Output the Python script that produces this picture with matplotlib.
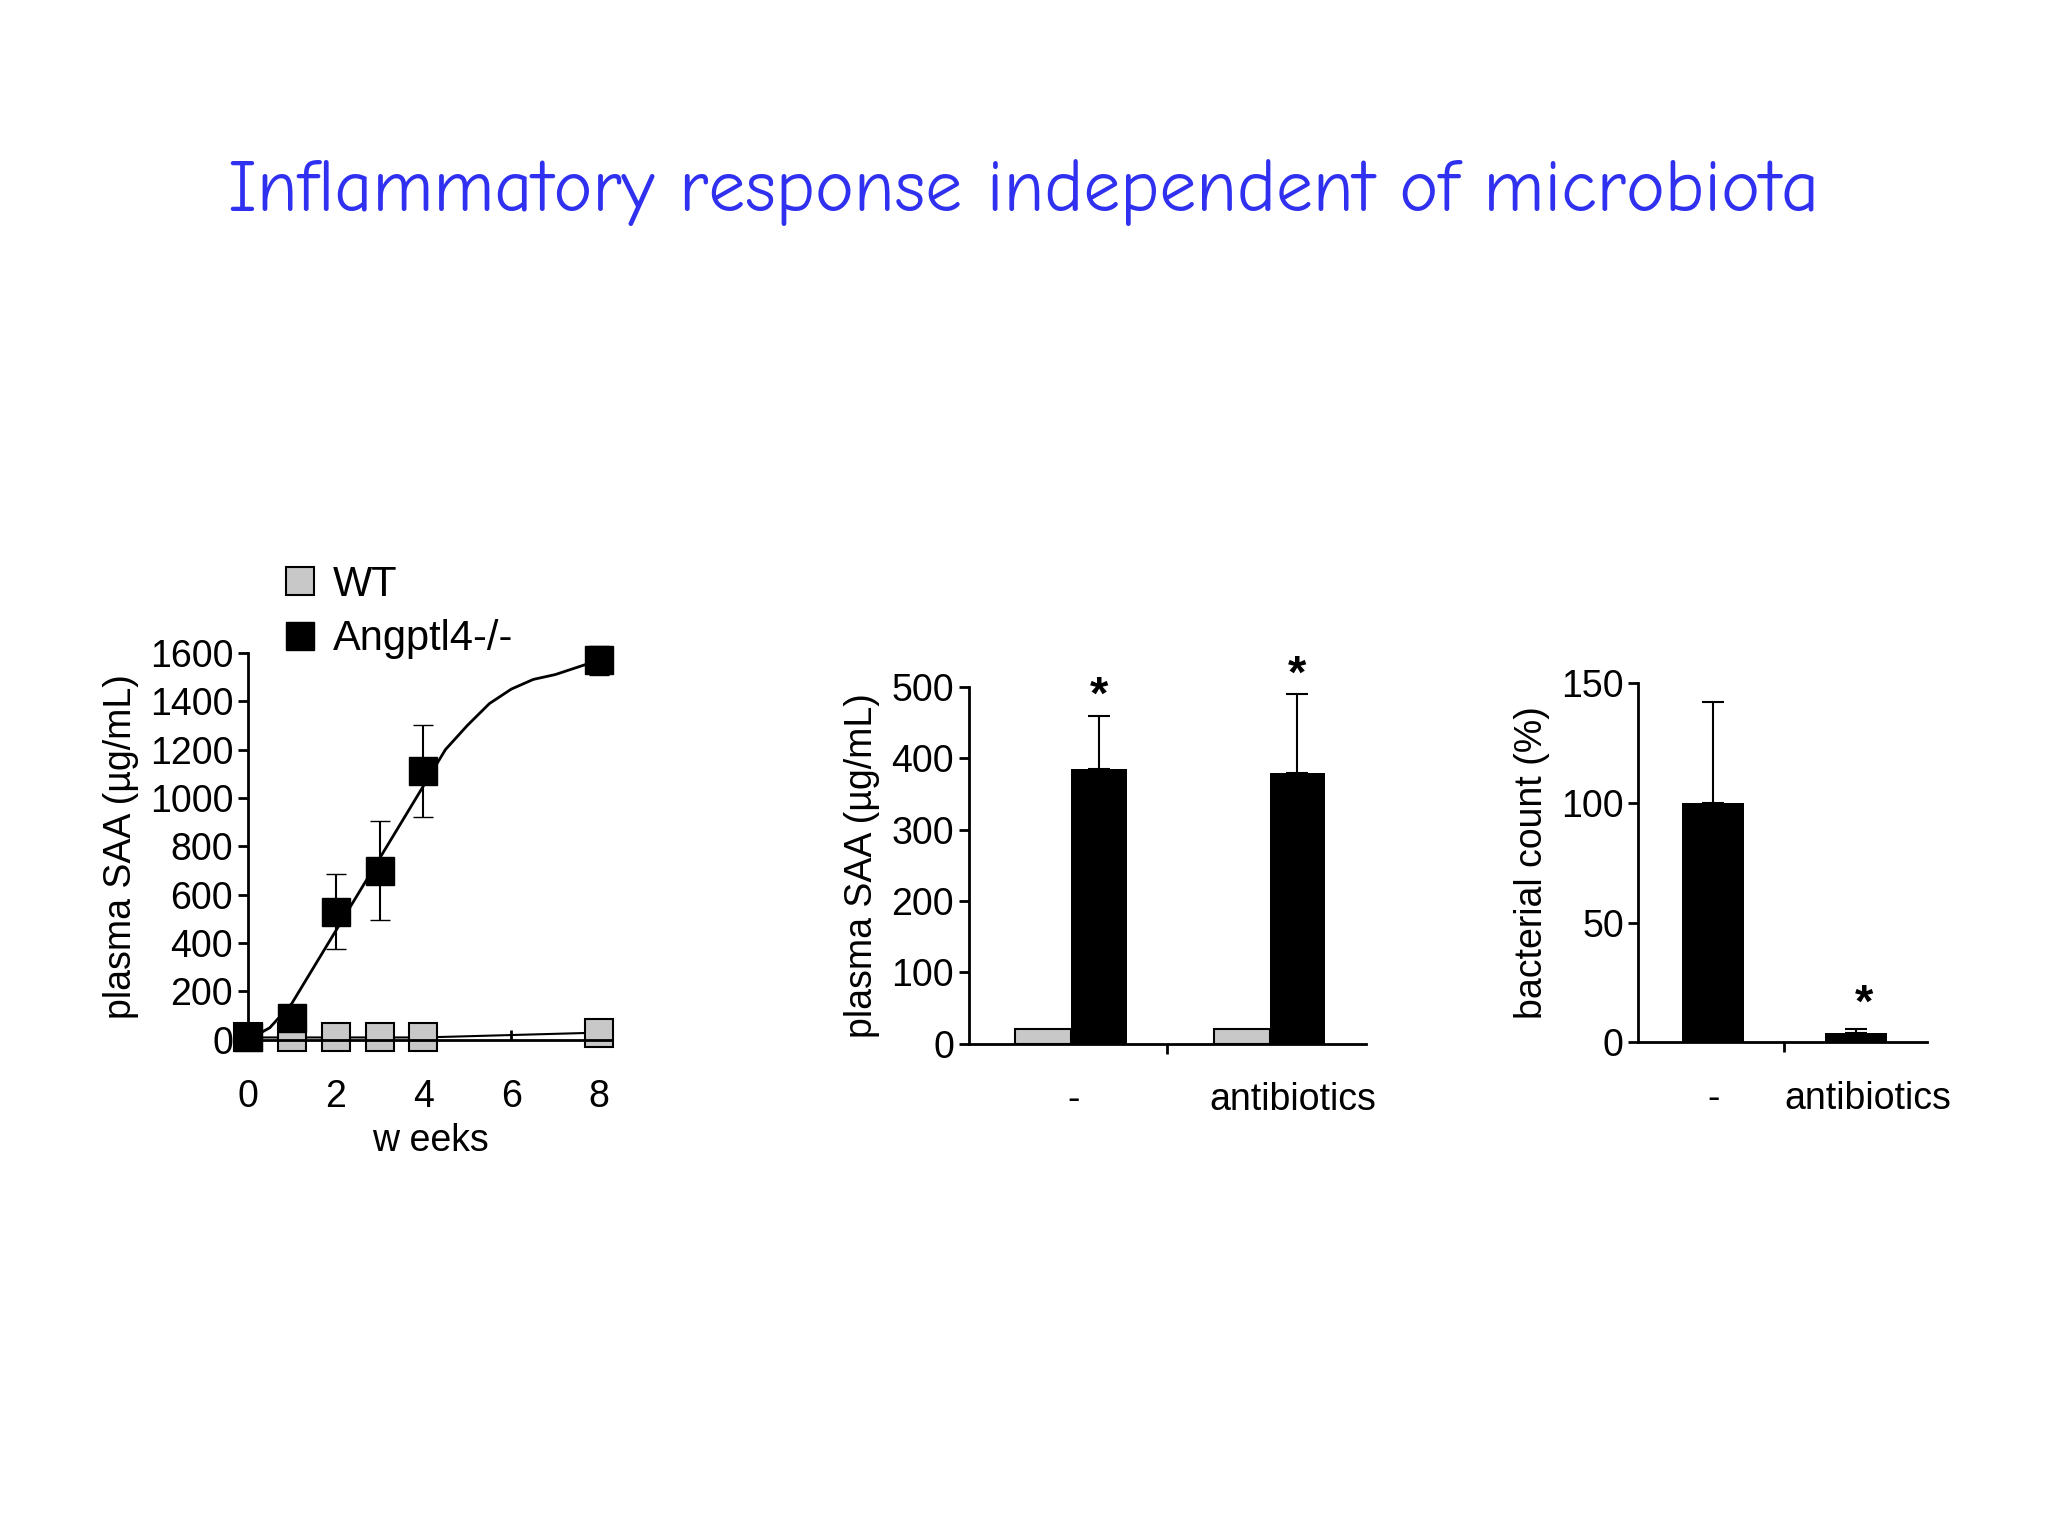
import matplotlib
matplotlib.use("Agg")
import matplotlib.pyplot as plt
from matplotlib.lines import Line2D

plt.rcParams['font.family'] = ['Liberation Sans', 'DejaVu Sans']

# Panel 1 data
weeks = [0, 1, 2, 3, 4, 8]
wt_vals = [10, 10, 10, 10, 10, 30]
wt_err = [10, 10, 10, 10, 10, 15]
ko_vals = [10, 90, 530, 700, 1110, 1570]
ko_err = [10, 20, 155, 205, 190, 60]
curve_x = [0, 0.5, 1, 1.5, 2, 2.5, 3, 3.5, 4, 4.5, 5, 5.5, 6, 6.5, 7, 7.5, 8]
curve_y = [0, 50, 150, 300, 450, 600, 750, 900, 1050, 1200, 1300, 1390, 1450, 1490, 1510, 1540, 1570]

# Panel 2 data
groups = ['-', 'antibiotics']
saa_wt = [20, 20]
saa_ko = [385, 380]
saa_ko_err = [75, 110]

# Panel 3 data
bact = [100, 4]
bact_err = [42, 1.5]

fig = plt.figure(figsize=(20.48, 15.36), dpi=100)
fig.text(0.5, 0.875, 'Inflammatory response independent of microbiota',
         ha='center', va='center', fontsize=53, color='#3030f0',
         family=['Comic Neue', 'DejaVu Sans'])

FS = 27
def style(ax):
    for s in ['top', 'right']:
        ax.spines[s].set_visible(False)
    ax.spines['left'].set_linewidth(2)
    ax.spines['bottom'].set_linewidth(2)
    ax.tick_params(labelsize=FS, width=2, length=7)

# Panel 1
ax1 = fig.add_axes([0.121, 0.323, 0.178, 0.252])
style(ax1)
ax1.plot(curve_x, curve_y, color='black', lw=2, clip_on=False)
ax1.plot(weeks, wt_vals, color='black', lw=1.5, clip_on=False)
e1 = ax1.errorbar(weeks, wt_vals, yerr=wt_err, fmt='s', ms=20, mfc='#c8c8c8', mec='black',
                  mew=1.5, ecolor='black', capsize=7)
e2 = ax1.errorbar(weeks, ko_vals, yerr=ko_err, fmt='s', ms=20, mfc='black', mec='black',
                  ecolor='black', capsize=7, elinewidth=1.5)
for e in (e1, e2):
    for art in e.get_children():
        art.set_clip_on(False)
ax1.set_xlim(0, 8.3)
ax1.set_ylim(0, 1600)
ax1.set_xticks([0, 2, 4, 6, 8])
ax1.set_yticks(range(0, 1601, 200))
ax1.tick_params(axis='x', direction='in', pad=28)
ax1.set_xlabel('w eeks', fontsize=FS, labelpad=6)
ax1.set_ylabel('plasma SAA (µg/mL)', fontsize=FS, labelpad=8)
handles = [Line2D([], [], ls='none', marker='s', ms=20, mfc='#c8c8c8', mec='black', mew=1.5),
           Line2D([], [], ls='none', marker='s', ms=20, mfc='black', mec='black')]
ax1.legend(handles, ['WT', 'Angptl4-/-'], loc='lower left', bbox_to_anchor=(0.04, 0.94),
           frameon=False, fontsize=FS + 3, handletextpad=0.3, borderaxespad=0,
           labelspacing=0.35, handlelength=1)

# Panel 2
ax2 = fig.add_axes([0.473, 0.3206, 0.194, 0.2321])
style(ax2)
gx = [0.375, 1.375]
kx = [0.655, 1.655]
ax2.bar(gx, saa_wt, width=0.28, color='#c8c8c8', edgecolor='black', lw=1.5)
ax2.bar(kx, saa_ko, width=0.28, color='black', yerr=[[0, 0], saa_ko_err],
        error_kw=dict(lw=1.5, capsize=8, capthick=1.5))
for x, v, e in zip(kx, saa_ko, saa_ko_err):
    ax2.text(x, v + e - 5, '*', ha='center', va='bottom', fontsize=34, fontweight='bold')
ax2.set_xlim(0, 2)
ax2.set_ylim(0, 500)
ax2.set_yticks(range(0, 501, 100))
ax2.set_xticks([0.53, 1.63])
ax2.set_xticklabels(groups)
ax2.tick_params(axis='x', length=0, pad=28)
ax2.set_xticks([1.0], minor=True)
ax2.tick_params(axis='x', which='minor', length=7, width=2)
ax2.set_ylabel('plasma SAA (µg/mL)', fontsize=FS, labelpad=8)

# Panel 3
ax3 = fig.add_axes([0.8, 0.3214, 0.141, 0.2338])
style(ax3)
bx = [0.516, 1.51]
ax3.bar(bx, bact, width=0.43, color='black', yerr=[[0, 0], bact_err],
        error_kw=dict(lw=1.5, capsize=8, capthick=1.5))
ax3.text(bx[1] + 0.05, bact[1] + bact_err[1] + 1, '*', ha='center', va='bottom',
         fontsize=34, fontweight='bold')
ax3.set_xlim(0, 2)
ax3.set_ylim(0, 150)
ax3.set_yticks([0, 50, 100, 150])
ax3.set_xticks([0.52, 1.59])
ax3.set_xticklabels(groups)
ax3.tick_params(axis='x', length=0, pad=28)
ax3.set_xticks([1.01], minor=True)
ax3.tick_params(axis='x', which='minor', length=7, width=2)
ax3.set_ylabel('bacterial count (%)', fontsize=FS, labelpad=8)

fig.savefig('out.png', dpi=100, facecolor='white')
